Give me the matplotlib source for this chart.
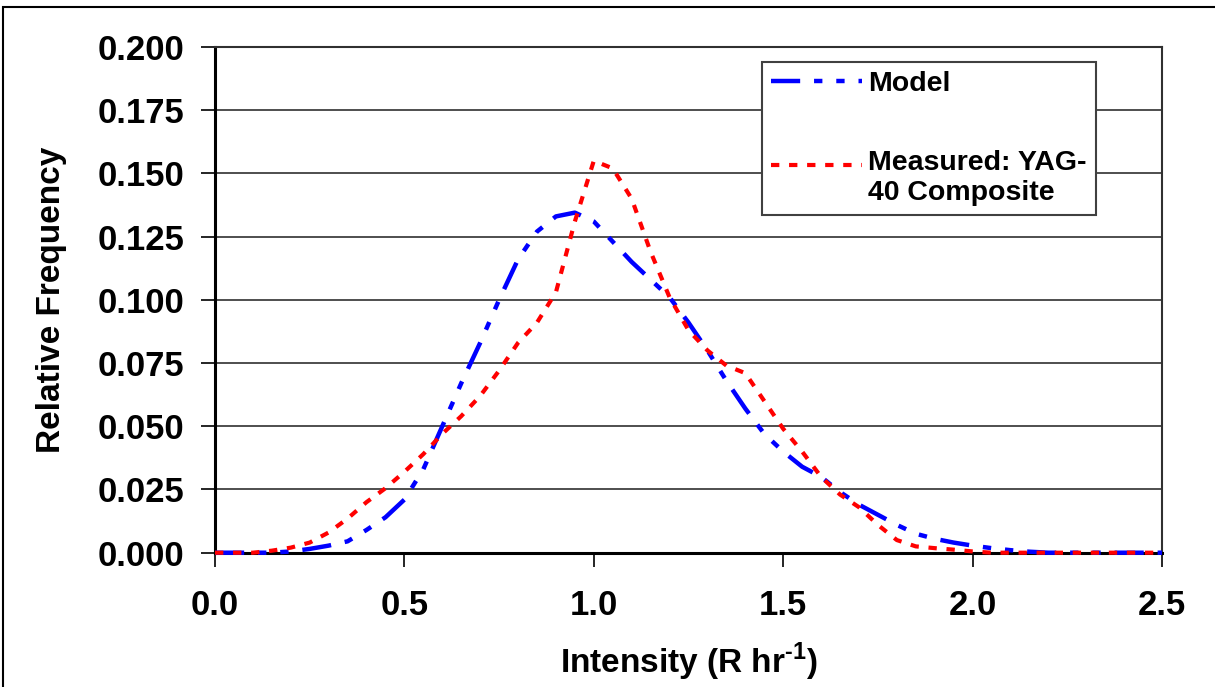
import matplotlib.pyplot as plt
from matplotlib.patches import Rectangle

plt.rcParams['font.family'] = ['Liberation Sans', 'DejaVu Sans']
plt.rcParams['font.weight'] = 'bold'
plt.rcParams['lines.scale_dashes'] = False
plt.rcParams['mathtext.fontset'] = 'custom'
plt.rcParams['mathtext.bf'] = 'Liberation Sans:bold'
plt.rcParams['mathtext.rm'] = 'Liberation Sans:bold'

# intensity bins (R/hr)
intensity = [0.00, 0.05, 0.10, 0.15, 0.20, 0.25, 0.30, 0.35, 0.40, 0.45,
             0.50, 0.55, 0.60, 0.65, 0.70, 0.75, 0.80, 0.85, 0.90, 0.95,
             1.00, 1.05, 1.10, 1.15, 1.20, 1.25, 1.30, 1.35, 1.40, 1.45,
             1.50, 1.55, 1.60, 1.65, 1.70, 1.75, 1.80, 1.85, 1.90, 1.95,
             2.00, 2.05, 2.10, 2.15, 2.20, 2.25, 2.30, 2.35, 2.40, 2.45, 2.50]

model = [0.0, 0.0, 0.0, 0.0, 0.0005, 0.0015, 0.0028, 0.0045, 0.009, 0.014,
         0.021, 0.033, 0.050, 0.067, 0.083, 0.100, 0.116, 0.127, 0.133, 0.1345,
         0.131, 0.123, 0.115, 0.108, 0.101, 0.091, 0.080, 0.068, 0.057, 0.047,
         0.040, 0.034, 0.030, 0.024, 0.019, 0.015, 0.011, 0.0075, 0.0055, 0.004,
         0.0028, 0.0018, 0.001, 0.0004, 0.0, 0.0, 0.0, 0.0, 0.0, 0.0, 0.0]

measured = [0.0, 0.0, 0.0, 0.0008, 0.002, 0.004, 0.008, 0.0135, 0.020, 0.0255,
            0.032, 0.039, 0.047, 0.054, 0.062, 0.072, 0.083, 0.091, 0.103, 0.131,
            0.155, 0.152, 0.140, 0.119, 0.101, 0.088, 0.080, 0.074, 0.071, 0.060,
            0.049, 0.040, 0.030, 0.023, 0.018, 0.011, 0.005, 0.0025, 0.0018, 0.0012,
            0.0005, 0.0, 0.0, 0.0, 0.0, 0.0, 0.0, 0.0, 0.0, 0.0, 0.0]

fig = plt.figure(figsize=(12.15, 6.87), dpi=100)
ax = fig.add_axes([215 / 1215, 1 - 552.7 / 687, (1162 - 215) / 1215, (552.7 - 47) / 687])

# chart border (runs off the right and bottom edges in the original)
fig.patches.append(Rectangle((3 / 1215, -0.05), 1.1, 1 - 7 / 687 + 0.05,
                             transform=fig.transFigure, fill=False,
                             edgecolor='black', linewidth=1.5))

ax.plot(intensity, model, color='#0000ff', linewidth=3.2,
        linestyle=(0, (21, 10, 6, 10, 6, 10)), label='Model', clip_on=False, zorder=3)
ax.plot(intensity, measured, color='#ff0000', linewidth=3.0,
        linestyle=(0, (6, 7)), label='Measured: YAG-\n40 Composite', clip_on=False, zorder=4)

ax.set_xlim(0, 2.5)
ax.set_ylim(0, 0.2)
ax.set_xticks([0.0, 0.5, 1.0, 1.5, 2.0, 2.5])
ax.set_yticks([0.0, 0.025, 0.05, 0.075, 0.1, 0.125, 0.15, 0.175, 0.2])
ax.set_xticklabels(['0.0', '0.5', '1.0', '1.5', '2.0', '2.5'])
ax.set_yticklabels(['0.000', '0.025', '0.050', '0.075', '0.100', '0.125',
                    '0.150', '0.175', '0.200'])
ax.tick_params(axis='both', direction='out', length=10, width=1.2,
               labelsize=25, colors='black', pad=12)
ax.tick_params(axis='x', pad=16)
ax.grid(axis='y', color='#303030', linewidth=1.2)
ax.set_axisbelow(True)

for side in ['left', 'bottom']:
    ax.spines[side].set_linewidth(2.2)
for side in ['top', 'right']:
    ax.spines[side].set_linewidth(1.5)
    ax.spines[side].set_color('#303030')

ax.set_xlabel('Intensity (R hr$^{\\mathbf{\u2010}\\mathbf{1}}$)', fontsize=24,
              fontweight='bold', labelpad=14)
ax.set_ylabel('Relative Frequency', fontsize=24, fontweight='bold', labelpad=22)

leg = ax.legend(loc='upper left', bbox_to_anchor=((762 - 215) / 947, 1 - 15 / 505.7),
                fontsize=20.5, frameon=True, fancybox=False, shadow=False,
                handlelength=3.2, handletextpad=0.2, labelspacing=1.85,
                borderpad=0.32, borderaxespad=0)
leg.get_frame().set_edgecolor('#404040')
leg.get_frame().set_linewidth(1.5)
leg.get_frame().set_alpha(1)
# put the red handle level with the first line of its two-line label
red_handle = leg.legend_handles[1]
red_handle.set_ydata([v + 9.5 for v in red_handle.get_ydata()])

fig.savefig('out.png', dpi=100)
